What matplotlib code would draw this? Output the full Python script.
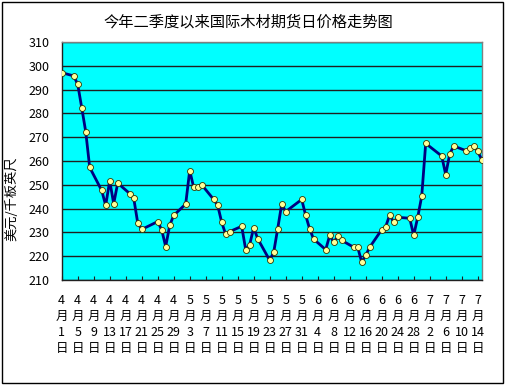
import matplotlib
matplotlib.use("Agg")
import matplotlib.pyplot as plt
import matplotlib.dates as mdates
from matplotlib.patches import Rectangle
import pandas as pd

plt.rcParams['font.family'] = ['Noto Sans CJK SC', 'DejaVu Sans']

title = "今年二季度以来国际木材期货日价格走势图"
ylabel = "美元/千板英尺"

dates = [
    "2011-04-01", "2011-04-04", "2011-04-05", "2011-04-06", "2011-04-07", "2011-04-08",
    "2011-04-11", "2011-04-12", "2011-04-13", "2011-04-14", "2011-04-15",
    "2011-04-18", "2011-04-19", "2011-04-20", "2011-04-21",
    "2011-04-25", "2011-04-26", "2011-04-27", "2011-04-28", "2011-04-29",
    "2011-05-02", "2011-05-03", "2011-05-04", "2011-05-05", "2011-05-06",
    "2011-05-09", "2011-05-10", "2011-05-11", "2011-05-12", "2011-05-13",
    "2011-05-16", "2011-05-17", "2011-05-18", "2011-05-19", "2011-05-20",
    "2011-05-23", "2011-05-24", "2011-05-25", "2011-05-26", "2011-05-27",
    "2011-05-31", "2011-06-01", "2011-06-02", "2011-06-03",
    "2011-06-06", "2011-06-07", "2011-06-08", "2011-06-09", "2011-06-10",
    "2011-06-13", "2011-06-14", "2011-06-15", "2011-06-16", "2011-06-17",
    "2011-06-20", "2011-06-21", "2011-06-22", "2011-06-23", "2011-06-24",
    "2011-06-27", "2011-06-28", "2011-06-29", "2011-06-30", "2011-07-01",
    "2011-07-05", "2011-07-06", "2011-07-07", "2011-07-08",
    "2011-07-11", "2011-07-12", "2011-07-13", "2011-07-14", "2011-07-15",
]
prices = [
    297.2, 295.8, 292.3, 282.5, 272.4, 257.3,
    247.6, 241.3, 251.7, 242.0, 250.7,
    246.3, 244.4, 234.0, 231.2,
    234.5, 231.0, 224.0, 232.9, 237.1,
    241.9, 256.0, 248.9, 248.9, 250.0,
    243.8, 241.3, 234.2, 229.1, 230.3,
    232.5, 222.7, 224.8, 232.0, 227.3,
    218.2, 221.6, 231.5, 241.9, 238.7,
    243.8, 237.1, 231.3, 227.1,
    222.7, 228.7, 225.8, 228.3, 226.6,
    223.7, 223.7, 217.4, 220.3, 223.7,
    231.1, 232.4, 237.3, 234.2, 236.3,
    235.9, 228.7, 236.3, 245.1, 267.4,
    262.1, 254.3, 262.9, 266.3,
    264.4, 265.4, 266.3, 264.0, 260.6,
]

x_start = "2011-04-01"
x_end = "2011-07-15"
tick_dates = pd.date_range("2011-04-01", "2011-07-14", freq="4D")
y_ticks = list(range(210, 311, 10))

W, H = 505, 385
fig = plt.figure(figsize=(W / 100, H / 100), dpi=100)
fig.patch.set_facecolor("white")
fig.patches.append(Rectangle((2 / W, 2 / H), 1 - 4 / W, 1 - 4 / H, transform=fig.transFigure,
                             fill=False, edgecolor="black", linewidth=1.0))

L, R, T, B = 61.7, 481.7, 42.2, 279.8
ax = fig.add_axes([L / W, 1 - B / H, (R - L) / W, (B - T) / H])
ax.set_facecolor("#00FFFF")

xd = pd.to_datetime(dates)
ax.plot(xd, prices, color="#000080", linewidth=2.0, marker="o", markersize=4.3,
        markerfacecolor="#FFFF99", markeredgecolor="#333300", markeredgewidth=0.6, zorder=3)

ax.set_xlim(pd.Timestamp(x_start), pd.Timestamp(x_end))
ax.set_ylim(210, 310)
ax.set_yticks(y_ticks)
ax.set_yticklabels([str(v) for v in y_ticks], fontsize=9)
ax.set_xticks(tick_dates)
ax.set_xticklabels([f"{d.month}\n月\n{d.day}\n日" for d in tick_dates], fontsize=9, linespacing=1.3)
ax.grid(axis="y", color="#202020", linewidth=1.0)
ax.set_axisbelow(True)
ax.tick_params(axis="x", direction="in", length=3, pad=10, color="#202020")
ax.tick_params(axis="y", direction="in", length=0, pad=9)
for s in ax.spines.values():
    s.set_color("#808080")
    s.set_linewidth(1.0)
ax.spines["bottom"].set_color("#202020")
ax.spines["left"].set_color("#202020")

ax.set_ylabel(ylabel, fontsize=9.5)
ax.yaxis.set_label_coords((18 - L) / (R - L), (B - 199) / (B - T))

fig.text(248 / W, 1 - 22 / H, title, ha="center", va="center", fontsize=11)

fig.savefig("out.png", dpi=100)
